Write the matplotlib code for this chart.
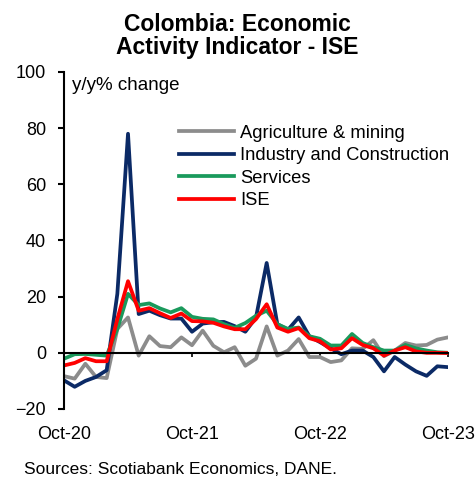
import numpy as np
import matplotlib.pyplot as plt

plt.rcParams['font.family'] = ['Liberation Sans', 'DejaVu Sans']

# monthly y/y % change, Oct-20 .. Oct-23
months = np.arange(37)
tick_pos = [0, 12, 24, 36]
tick_labels = ["Oct-20", "Oct-21", "Oct-22", "Oct-23"]

agri = [-8.3, -9.2, -3.9, -8.6, -9.0, 8.5, 12.6, -1.0, 5.9, 2.4, 2.0, 5.5,
        2.7, 7.9, 2.5, 0.2, 2.0, -4.6, -2.1, 9.4, -1.0, 0.8, 4.9, -1.5,
        -1.5, -3.3, -2.7, 1.6, 1.4, 4.5, -1.2, 0.8, 3.5, 2.6, 2.8, 4.7, 5.5]
industry = [-9.8, -12.1, -10.0, -8.6, -6.2, 21.0, 78.0, 13.8, 15.0, 13.4, 12.2, 12.2,
            7.5, 10.4, 10.9, 11.0, 9.5, 7.5, 12.6, 32.0, 10.2, 8.2, 12.6, 5.9,
            3.8, 1.6, -0.5, 0.8, 0.8, -1.5, -6.6, -1.5, -4.2, -6.6, -8.2, -4.8, -5.1]
services = [-2.1, -0.5, -0.4, -0.7, -1.0, 8.5, 21.0, 17.0, 17.6, 15.8, 14.4, 15.9,
            12.8, 12.1, 11.9, 10.2, 8.9, 10.6, 13.2, 15.0, 10.2, 8.5, 9.0, 5.9,
            5.0, 2.6, 2.6, 6.7, 3.5, 2.0, 0.8, 0.8, 2.8, 1.6, 0.8, 0.2, 0.0]
ise = [-4.5, -3.6, -1.9, -3.0, -3.0, 12.0, 25.5, 15.0, 15.9, 14.1, 12.4, 14.0,
       11.3, 11.2, 10.7, 9.4, 8.4, 8.4, 12.0, 17.3, 9.0, 7.5, 8.8, 5.2,
       4.1, 1.2, 1.6, 5.2, 2.8, 1.6, -1.0, 0.8, 2.0, 0.5, 0.0, 0.0, -0.1]

fig = plt.figure(figsize=(4.77, 4.78), dpi=100)
ax = fig.add_axes([0.1342, 0.1444, 0.805, 0.705])

lw = 2.7
ax.plot(months, agri, color="#8c8c8c", lw=lw, label="Agriculture & mining")
ax.plot(months, industry, color="#0b2a66", lw=lw, label="Industry and Construction")
ax.plot(months, services, color="#1a9a5c", lw=lw, label="Services")
ax.plot(months, ise, color="#ff0000", lw=lw, label="ISE")

ax.set_xlim(0, 36)
ax.set_ylim(-20, 100)
ax.set_yticks(range(-20, 101, 20))
ax.set_xticks(tick_pos)
ax.set_xticklabels(tick_labels)

for s in ["top", "right"]:
    ax.spines[s].set_visible(False)
ax.spines["bottom"].set_position(("data", 0))
ax.spines["bottom"].set_linewidth(1.5)
ax.spines["left"].set_linewidth(1.5)
ax.tick_params(axis="y", direction="out", length=4, width=1.5, pad=9, labelsize=13)
ax.tick_params(axis="x", direction="out", length=3, width=1.2, pad=50, labelsize=13)

ax.text(0.02, 0.985, "y/y% change", transform=ax.transAxes, fontsize=13.5,
        va="top", ha="left")

ax.legend(loc="upper left", bbox_to_anchor=(0.28, 0.865), frameon=False,
          fontsize=13.2, handlelength=3.0, handletextpad=0.35, labelspacing=0.3,
          borderaxespad=0)

fig.text(0.497, 0.972, "Colombia: Economic\nActivity Indicator - ISE",
         ha="center", va="top", fontsize=16.5, fontweight="bold", linespacing=1.0)
fig.text(0.05, 0.003, "Sources: Scotiabank Economics, DANE.", fontsize=12.5,
         ha="left", va="bottom")

fig.savefig("out.png", dpi=100)
